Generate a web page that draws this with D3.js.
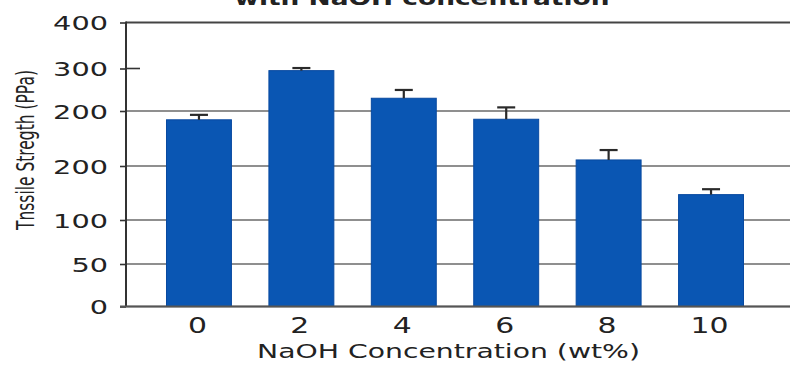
<!DOCTYPE html>
<html>
<head>
<meta charset="utf-8">
<script src="https://cdn.jsdelivr.net/npm/d3@7/dist/d3.min.js"></script>
<style>
  html, body { margin: 0; padding: 0; background: #fff; }
  svg { display: block; }
  text { font-family: "DejaVu Sans", "Open Sans", sans-serif; fill: #222; }
</style>
</head>
<body>
<svg id="chart" width="790" height="365"></svg>
<script>
// NaOH concentration (wt%) and measured tensile strength with upper error
const categories = ["0", "2", "4", "6", "8", "10"];
const strength = [192, 295, 230, 192.5, 155.5, 123.5];
const strengthErr = [4.5, 6, 19.5, 16, 9, 5];

// y-axis ticks as printed on the axis
const yTickValues = [0, 50, 100, 150, 200, 300, 400];
const yTickLabels = ["0", "50", "100", "200", "200", "300", "400"];
const yGridTicks = [0, 50, 100, 150, 200, 400];

const titleText = "with NaOH concentration";
const xTitle = "NaOH Concentration (wt%)";
const yTitle = "Tnssile Stregth (PPa)";

const svg = d3.select("#chart");

const x = d3.scaleBand()
  .domain(categories)
  .range([120, 790])
  .paddingInner(0.366)
  .paddingOuter(0.454);

// piecewise-linear value axis following the uneven tick spacing
const y = d3.scaleLinear()
  .domain(yTickValues)
  .range([306.5, 264, 220, 166, 111, 68.5, 22.5]);

const axisX = 126;

// grid lines
svg.append("g")
  .selectAll("line")
  .data(yGridTicks)
  .join("line")
  .attr("x1", axisX)
  .attr("x2", 790)
  .attr("y1", d => y(d))
  .attr("y2", d => y(d))
  .attr("stroke", d => d === 400 ? "#444" : "#6a6a6a")
  .attr("stroke-width", d => d === 400 ? 2 : 1.6);

// y axis with outward ticks
const yAxis = d3.axisLeft(y)
  .tickValues(yTickValues)
  .tickFormat((d, i) => yTickLabels[i])
  .tickSize(6)
  .tickPadding(12);

const gy = svg.append("g")
  .attr("transform", `translate(${axisX},0)`)
  .call(yAxis);
gy.select(".domain").remove();
gy.selectAll(".tick line").attr("stroke", "#333").attr("stroke-width", 1.6);
gy.selectAll(".tick text")
  .attr("font-size", 20)
  .attr("font-family", "DejaVu Sans, sans-serif")
  .attr("fill", "#222")
  .attr("dy", "0.35em")
  .attr("textLength", function() { return this.textContent.length * 18.3; })
  .attr("lengthAdjust", "spacingAndGlyphs");

// short inner tick at 300
svg.append("line")
  .attr("x1", axisX).attr("x2", axisX + 14)
  .attr("y1", y(300)).attr("y2", y(300))
  .attr("stroke", "#333").attr("stroke-width", 1.6);

// bars
svg.append("g")
  .selectAll("rect")
  .data(categories)
  .join("rect")
  .attr("x", d => x(d))
  .attr("width", x.bandwidth())
  .attr("y", (d, i) => y(strength[i]))
  .attr("height", (d, i) => y(0) - y(strength[i]))
  .attr("fill", "#0a56b3")
  .attr("stroke", "#0849a0")
  .attr("stroke-width", 1);

// upper error bars
const eb = svg.append("g").attr("stroke", "#2a2a2a").attr("stroke-width", 2.2);
categories.forEach((c, i) => {
  const cx = x(c) + x.bandwidth() / 2;
  const top = y(strength[i] + strengthErr[i]);
  eb.append("line")
    .attr("x1", cx).attr("x2", cx)
    .attr("y1", y(strength[i])).attr("y2", top);
  eb.append("line")
    .attr("x1", cx - 9).attr("x2", cx + 9)
    .attr("y1", top).attr("y2", top);
});

// y axis line and baseline
svg.append("line")
  .attr("x1", axisX).attr("x2", axisX)
  .attr("y1", y(400) - 1).attr("y2", y(0))
  .attr("stroke", "#333").attr("stroke-width", 2);
svg.append("line")
  .attr("x1", axisX - 6).attr("x2", 790)
  .attr("y1", y(0)).attr("y2", y(0))
  .attr("stroke", "#555").attr("stroke-width", 2);

// x tick labels
svg.append("g")
  .selectAll("text")
  .data(categories)
  .join("text")
  .attr("x", d => x(d) + x.bandwidth() / 2 - 1.5)
  .attr("y", 333)
  .attr("text-anchor", "middle")
  .attr("font-size", 21)
  .attr("textLength", d => d.length * 19)
  .attr("lengthAdjust", "spacingAndGlyphs")
  .text(d => d);

// x axis title
svg.append("text")
  .attr("x", 448.5)
  .attr("y", 358)
  .attr("text-anchor", "middle")
  .attr("font-size", 19)
  .attr("textLength", 383)
  .attr("lengthAdjust", "spacingAndGlyphs")
  .text(xTitle);

// y axis title
svg.append("text")
  .attr("transform", "translate(34,150) rotate(-90)")
  .attr("text-anchor", "middle")
  .attr("font-family", "Liberation Sans Narrow, DejaVu Sans Condensed, sans-serif")
  .attr("font-size", 24)
  .attr("fill", "#2a2a2a")
  .attr("textLength", 160)
  .attr("lengthAdjust", "spacingAndGlyphs")
  .text(yTitle);

// chart title, running off the top edge
svg.append("text")
  .attr("x", 422)
  .attr("y", 5)
  .attr("text-anchor", "middle")
  .attr("font-size", 20)
  .attr("font-weight", "bold")
  .attr("fill", "#333")
  .attr("textLength", 375)
  .attr("lengthAdjust", "spacingAndGlyphs")
  .text(titleText);
</script>
</body>
</html>
